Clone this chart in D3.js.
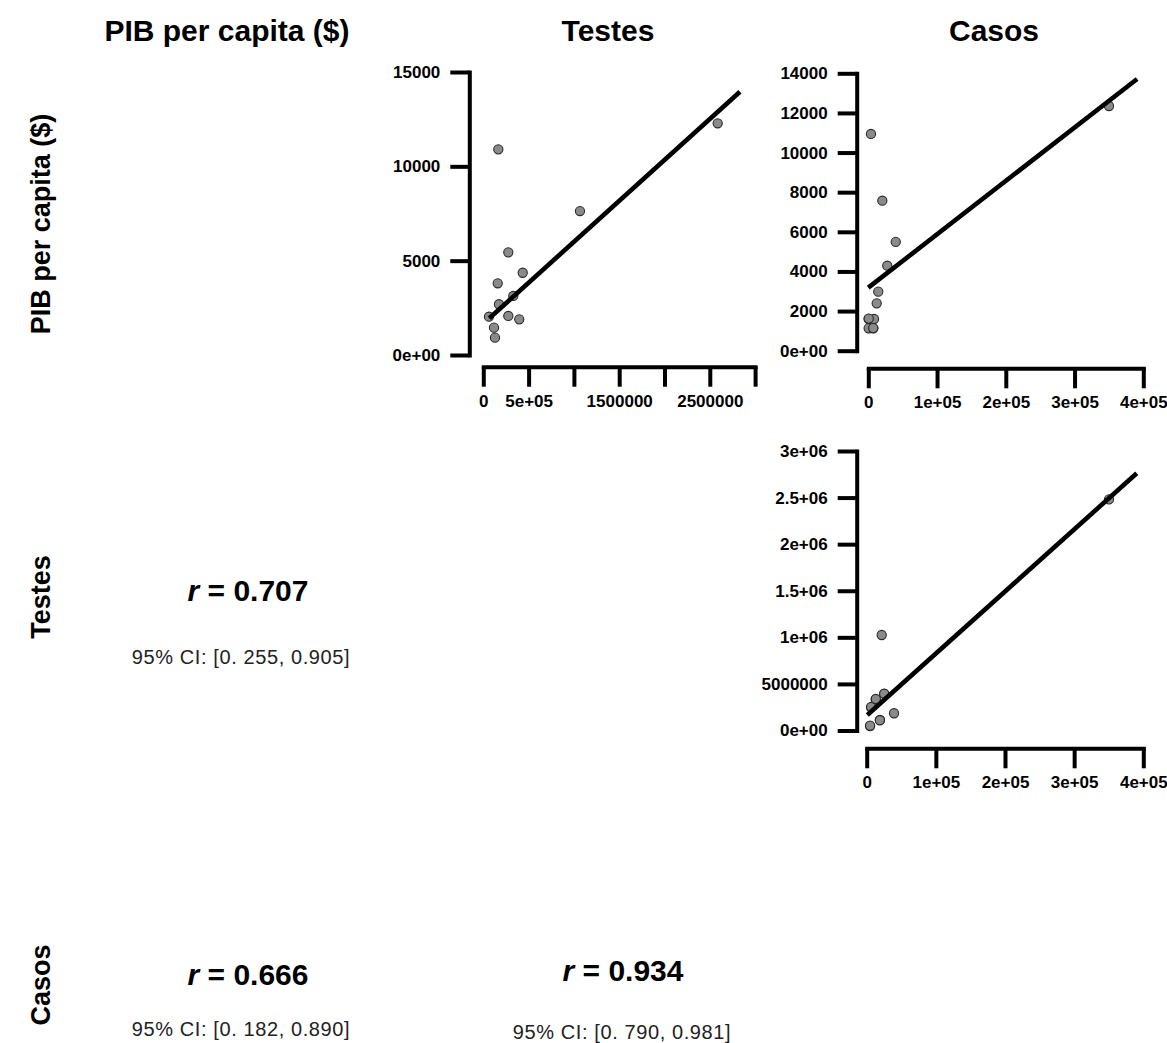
<!DOCTYPE html>
<html>
<head>
<meta charset="utf-8">
<script src="https://cdn.jsdelivr.net/npm/d3@7"></script>
<style>
  body { margin: 0; background: #fff; }
  svg { display: block; font-family: "Liberation Sans", Arial, Helvetica, sans-serif; }
</style>
</head>
<body>
<svg id="chart" width="1167" height="1043"></svg>
<script>
// ---- Variáveis da matriz de correlação ----
const variaveis = ["PIB per capita ($)", "Testes", "Casos"];

// Testes (x) × PIB per capita (y)
const pontosTestesPib = [
  [165600, 10900], [2587000, 12280], [1067000, 7630], [276000, 5440],
  [435000, 4360], [159000, 3800], [331000, 3130], [173000, 2690],
  [63000, 2030], [276000, 2070], [397000, 1890], [118000, 1450], [129000, 920]
];
const linhaTestesPib = [[66000, 1945], [2833000, 13953]];

// Casos (x) × PIB per capita (y)
const pontosCasosPib = [
  [3900, 10940], [350100, 12350], [20400, 7570], [39900, 5490],
  [27600, 4290], [14500, 2980], [12200, 2390], [500, 1600],
  [8300, 1600], [500, 1130], [7300, 1130], [600, 1620], [7200, 1140]
];
const linhaCasosPib = [[0, 3180], [391000, 13715]];

// Casos (x) × Testes (y)
const pontosCasosTestes = [
  [350400, 2481000], [21700, 1025000], [25500, 392000], [13000, 335000],
  [6200, 249000], [39500, 185000], [19200, 113000], [4800, 48000],
  [6400, 252000], [13200, 338000], [4900, 52000], [19000, 110000], [25300, 395000]
];
const linhaCasosTestes = [[900, 166000], [390500, 2761000]];

// Ticks e rótulos dos eixos
const ticksTestesX = [0, 5e5, 1e6, 1.5e6, 2e6, 2.5e6, 3e6];
const rotulosTestesX = ["0", "5e+05", "", "1500000", "", "2500000", ""];
const ticksPibA = [0, 5000, 10000, 15000];
const rotulosPibA = ["0e+00", "5000", "10000", "15000"];
const ticksPibB = [0, 2000, 4000, 6000, 8000, 10000, 12000, 14000];
const rotulosPibB = ["0e+00", "2000", "4000", "6000", "8000", "10000", "12000", "14000"];
const ticksCasos = [0, 1e5, 2e5, 3e5, 4e5];
const rotulosCasos = ["0", "1e+05", "2e+05", "3e+05", "4e+05"];
const ticksTestesY = [0, 5e5, 1e6, 1.5e6, 2e6, 2.5e6, 3e6];
const rotulosTestesY = ["0e+00", "5000000", "1e+06", "1.5+06", "2e+06", "2.5+06", "3e+06"];

// Coeficientes de correlação e intervalos de confiança (triângulo inferior)
const correlacoes = [0.707, 0.666, 0.934];
const icInferior = [0.255, 0.182, 0.790];
const icSuperior = [0.905, 0.890, 0.981];

// ---- Desenho ----
const svg = d3.select("#chart");
const f3 = d3.format(".3f");

// Títulos das colunas e linhas
const centrosColunas = [227, 608, 994];
const centrosLinhas = [224, 597, 985];

svg.selectAll("text.coluna").data(variaveis).join("text")
  .attr("class", "coluna")
  .attr("x", (d, i) => centrosColunas[i]).attr("y", 41)
  .attr("text-anchor", "middle")
  .attr("font-size", 30).attr("font-weight", "bold")
  .text(d => d);

svg.selectAll("text.linha").data(variaveis).join("text")
  .attr("class", "linha")
  .attr("transform", (d, i) => `translate(50,${centrosLinhas[i]}) rotate(-90)`)
  .attr("text-anchor", "middle")
  .attr("font-size", 27).attr("font-weight", "bold")
  .text(d => d);

// Painel de dispersão com eixos deslocados
function painel(cfg) {
  const x = d3.scaleLinear().domain(cfg.xDom).range(cfg.xRange);
  const y = d3.scaleLinear().domain(cfg.yDom).range(cfg.yRange);
  const g = svg.append("g");

  const eixoY = g.append("g")
    .attr("transform", `translate(${cfg.yAxisX},0)`)
    .call(d3.axisLeft(y).tickValues(cfg.yTicks)
      .tickFormat((d, i) => cfg.yLabels[i])
      .tickSize(19).tickSizeOuter(0).tickPadding(10));
  const eixoX = g.append("g")
    .attr("transform", `translate(0,${cfg.xAxisY})`)
    .call(d3.axisBottom(x).tickValues(cfg.xTicks)
      .tickFormat((d, i) => cfg.xLabels[i])
      .tickSize(20).tickSizeOuter(0).tickPadding(8));

  [eixoY, eixoX].forEach(e => {
    e.select(".domain").attr("stroke", "#000").attr("stroke-width", 4)
      .attr("stroke-linecap", "square");
    e.selectAll(".tick line").attr("stroke", "#000").attr("stroke-width", 4);
    e.selectAll(".tick text").attr("fill", "#000")
      .attr("font-size", 17).attr("font-weight", "bold")
      .attr("font-family", "'Liberation Sans', Arial, Helvetica, sans-serif");
  });

  g.append("g").selectAll("circle").data(cfg.pontos).join("circle")
    .attr("cx", d => x(d[0])).attr("cy", d => y(d[1])).attr("r", 4.6)
    .attr("fill", "#8a8a8a").attr("stroke", "#2a2a2a").attr("stroke-width", 1.1);

  g.append("path").datum(cfg.linha)
    .attr("d", d3.line().x(d => x(d[0])).y(d => y(d[1])))
    .attr("fill", "none").attr("stroke", "#000").attr("stroke-width", 4.6);
}

painel({
  pontos: pontosTestesPib, linha: linhaTestesPib,
  xDom: [0, 3e6], xRange: [483.3, 755.1], xTicks: ticksTestesX, xLabels: rotulosTestesX,
  yDom: [0, 15000], yRange: [355, 72], yTicks: ticksPibA, yLabels: rotulosPibA,
  yAxisX: 469.3, xAxisY: 366.7
});

painel({
  pontos: pontosCasosPib, linha: linhaCasosPib,
  xDom: [0, 4e5], xRange: [868.3, 1143.3], xTicks: ticksCasos, xLabels: rotulosCasos,
  yDom: [0, 14000], yRange: [350.7, 73.3], yTicks: ticksPibB, yLabels: rotulosPibB,
  yAxisX: 856.7, xAxisY: 368.3
});

painel({
  pontos: pontosCasosTestes, linha: linhaCasosTestes,
  xDom: [0, 4e5], xRange: [866.7, 1143.3], xTicks: ticksCasos, xLabels: rotulosCasos,
  yDom: [0, 3e6], yRange: [730.5, 451], yTicks: ticksTestesY, yLabels: rotulosTestesY,
  yAxisX: 856.7, xAxisY: 748.3
});

// Células com r e IC 95%
const celulas = [
  { i: 0, cx: 248, ry: 601, cy: 664, ix: 241 },
  { i: 1, cx: 248, ry: 985, cy: 1036, ix: 241 },
  { i: 2, cx: 623, ry: 981, cy: 1039, ix: 622 }
];
celulas.forEach(c => {
  const t = svg.append("text")
    .attr("x", c.cx).attr("y", c.ry).attr("text-anchor", "middle")
    .attr("font-size", 30).attr("font-weight", "bold");
  t.append("tspan").attr("font-style", "italic").text("r");
  t.append("tspan").text(" = " + f3(correlacoes[c.i]));

  svg.append("text")
    .attr("x", c.ix).attr("y", c.cy).attr("text-anchor", "middle")
    .attr("font-size", 20).attr("letter-spacing", 0.6).attr("fill", "#222")
    .text(`95% CI: [0. ${f3(icInferior[c.i]).slice(2)}, ${f3(icSuperior[c.i])}]`);
});
</script>
</body>
</html>
